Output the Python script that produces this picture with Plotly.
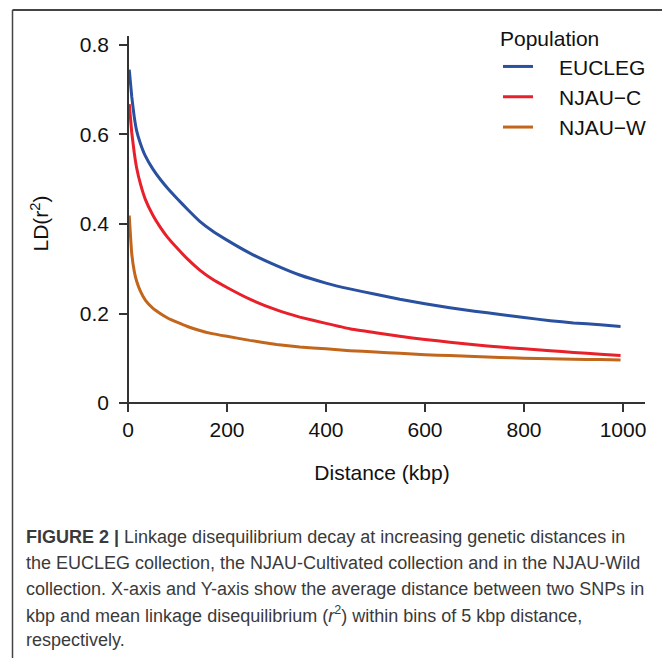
import plotly.graph_objects as go

# Distance (kbp) at which values were read
distance_kbp = [2.5, 7.5, 12.5, 17.5, 25, 35, 50, 65, 80, 100, 120, 145, 170, 200,
                246, 300, 347, 400, 448, 500, 549, 600, 650, 700, 752, 800, 853,
                900, 954, 995]

ld_eucleg = [0.745, 0.685, 0.640, 0.608, 0.580, 0.552, 0.523, 0.500, 0.480, 0.456, 0.433,
             0.406, 0.385, 0.364, 0.335, 0.307, 0.286, 0.268, 0.255, 0.243, 0.232, 0.222,
             0.213, 0.205, 0.198, 0.191, 0.184, 0.179, 0.175, 0.171]

ld_njau_c = [0.668, 0.605, 0.560, 0.525, 0.490, 0.455, 0.420, 0.393, 0.370, 0.345, 0.322,
             0.297, 0.277, 0.258, 0.232, 0.208, 0.192, 0.178, 0.166, 0.157, 0.149, 0.142,
             0.136, 0.130, 0.125, 0.121, 0.117, 0.113, 0.109, 0.106]

ld_njau_w = [0.419, 0.334, 0.295, 0.272, 0.250, 0.230, 0.212, 0.200, 0.190, 0.180, 0.171,
             0.162, 0.155, 0.149, 0.140, 0.131, 0.125, 0.121, 0.117, 0.114, 0.111, 0.108,
             0.106, 0.104, 0.102, 0.100, 0.099, 0.098, 0.097, 0.096]

series_names = ["EUCLEG", "NJAU\u2212C", "NJAU\u2212W"]
series_colors = ["#2A50A0", "#E8202A", "#C2661C"]

x_ticks = [0, 200, 400, 600, 800, 1000]
y_ticks = [0, 0.2, 0.4, 0.6, 0.8]
y_tick_text = ["0", "0.2", "0.4", "0.6", "0.8"]

caption_lines = [
    "<b>FIGURE 2 |</b> Linkage disequilibrium decay at increasing genetic distances in",
    "the EUCLEG collection, the NJAU-Cultivated collection and in the NJAU-Wild",
    "collection. X-axis and Y-axis show the average distance between two SNPs in",
    "kbp and mean linkage disequilibrium (<i>r</i><sup>2</sup>) within bins of 5 kbp distance,",
    "respectively.",
]

W, H = 670, 658
OFF = 8  # page body margin offset
# plot area in target-picture pixels
PX0, PX1, PY0, PY1 = 119, 645, 35, 411
ML = PX0 - OFF
MT = PY0 - OFF
MR = W - (PX1 - OFF)
MB = H - (PY1 - OFF)
PW = PX1 - PX0
PH = PY1 - PY0


def px_to_paper_x(px):
    return (px - PX0) / PW


def py_to_paper_y(py):
    return (PY1 - py) / PH


fig = go.Figure()
for name, color, vals in zip(series_names, series_colors, [ld_eucleg, ld_njau_c, ld_njau_w]):
    fig.add_trace(go.Scatter(
        x=distance_kbp, y=vals, mode="lines", name="\u2003" + name,
        line=dict(color=color, width=3, shape="spline", smoothing=0.3),
    ))

font_main = "Liberation Sans, Arial, sans-serif"

fig.update_layout(
    width=W, height=H,
    margin=dict(l=ML, r=MR, t=MT, b=MB),
    paper_bgcolor="white", plot_bgcolor="white",
    font=dict(family=font_main, size=21, color="#111111"),
    showlegend=True,
    legend=dict(
        x=px_to_paper_x(498), y=py_to_paper_y(19), xanchor="left", yanchor="top",
        title=dict(text="Population", font=dict(size=21, color="#111111")),
        font=dict(size=21, color="#111111"),
        bgcolor="rgba(0,0,0,0)", itemwidth=30, tracegroupgap=0,
    ),
    xaxis=dict(
        range=[-18.2, 1044.4], showgrid=False, zeroline=False,
        showline=True, linecolor="#333333", linewidth=1.5,
        anchor="free", position=(PY1 - 403) / PH,
        ticks="outside", ticklen=8, tickwidth=1.5, tickcolor="#333333",
        tickvals=x_ticks, ticktext=[str(v) for v in x_ticks],
        tickfont=dict(size=21, color="#111111"),
        title=dict(text="Distance (kbp)", font=dict(size=21, color="#111111"), standoff=24),
        automargin=False,
    ),
    yaxis=dict(
        range=[-0.0178, 0.820], showgrid=False, zeroline=False,
        showline=True, linecolor="#333333", linewidth=1.5,
        anchor="free", position=(128 - PX0) / PW,
        ticks="outside", ticklen=8, tickwidth=1.5, tickcolor="#333333",
        ticklabelstandoff=6,
        tickvals=y_ticks, ticktext=y_tick_text,
        tickfont=dict(size=21, color="#111111"),
        title=dict(text="LD(r<sup>2</sup>)", font=dict(size=21, color="#111111"), standoff=24),
        automargin=False,
    ),
)

# caption lines
caption_y = [537, 563, 589, 615, 641]
for txt, cy in zip(caption_lines, caption_y):
    fig.add_annotation(
        text=txt, xref="paper", yref="paper",
        x=px_to_paper_x(24), y=py_to_paper_y(cy), xanchor="left", yanchor="middle",
        showarrow=False, align="left",
        font=dict(family=font_main, size=18, color="#3a3a3a"),
    )

# frame lines (left and top)
fig.add_shape(type="line", xref="paper", yref="paper",
              x0=px_to_paper_x(12.5), x1=px_to_paper_x(12.5),
              y0=py_to_paper_y(9), y1=py_to_paper_y(670),
              line=dict(color="#444444", width=1.5))
fig.add_shape(type="line", xref="paper", yref="paper",
              x0=px_to_paper_x(12.5), x1=px_to_paper_x(680),
              y0=py_to_paper_y(9), y1=py_to_paper_y(9),
              line=dict(color="#444444", width=2))

fig.write_html("out.html")
